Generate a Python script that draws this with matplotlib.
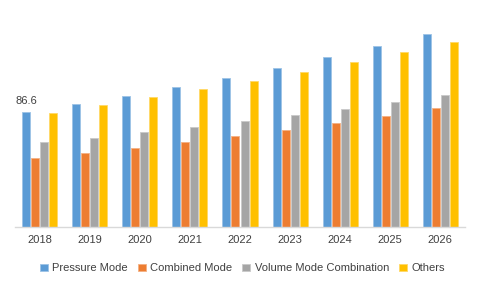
import numpy as np
import matplotlib
matplotlib.use('Agg')
import matplotlib.pyplot as plt

years = ['2018', '2019', '2020', '2021', '2022', '2023', '2024', '2025', '2026']
series_names = ['Pressure Mode', 'Combined Mode', 'Volume Mode Combination', 'Others']
pressure = [86.6, 92.7, 98.7, 105.5, 112.3, 119.9, 128.2, 136.6, 145.6]
combined = [52.0, 55.6, 59.6, 63.9, 68.4, 73.0, 78.3, 83.6, 89.6]
volume = [63.9, 67.1, 71.5, 75.2, 79.8, 84.3, 88.9, 94.2, 99.5]
others = [86.4, 91.9, 98.0, 104.0, 110.1, 116.9, 124.4, 132.0, 139.6]

colors = ['#5B9BD5', '#ED7D31', '#A5A5A5', '#FFC000']
edges = ['#9DC3E6', '#F4B183', '#C9C9C9', '#FFD966']

plt.rcParams['font.family'] = ['Liberation Sans', 'DejaVu Sans']

fig = plt.figure(figsize=(4.8, 2.88), dpi=100)
ax = fig.add_axes([0.031, 0.213, 0.938, 0.734])

x = np.arange(len(years))
width = 0.16
step = 0.18
for i, (name, vals) in enumerate(zip(series_names, [pressure, combined, volume, others])):
    ax.bar(x + (i - 1.5) * step, vals, width, color=colors[i], edgecolor=edges[i],
           linewidth=0.6, label=name)

ax.text(x[0] - 1.5 * step, pressure[0] + 5, f'{pressure[0]}', ha='center', va='bottom',
        fontsize=8, color='#404040')

ax.set_xlim(-0.5, len(years) - 0.5)
ax.set_ylim(0, 160)
ax.set_xticks(x)
ax.set_xticklabels(years, fontsize=8, color='#404040')
ax.tick_params(axis='x', length=0, pad=6)
ax.set_yticks([])
for s in ['top', 'right', 'left']:
    ax.spines[s].set_visible(False)
ax.spines['bottom'].set_color('#D9D9D9')
ax.spines['bottom'].set_linewidth(1.0)

fig.legend(loc='center', bbox_to_anchor=(0.505, 0.068), ncol=4, frameon=False,
           fontsize=8, handlelength=0.7, handleheight=0.7, handletextpad=0.4,
           columnspacing=0.9, labelcolor='#404040')

fig.savefig('out.png', dpi=100)
